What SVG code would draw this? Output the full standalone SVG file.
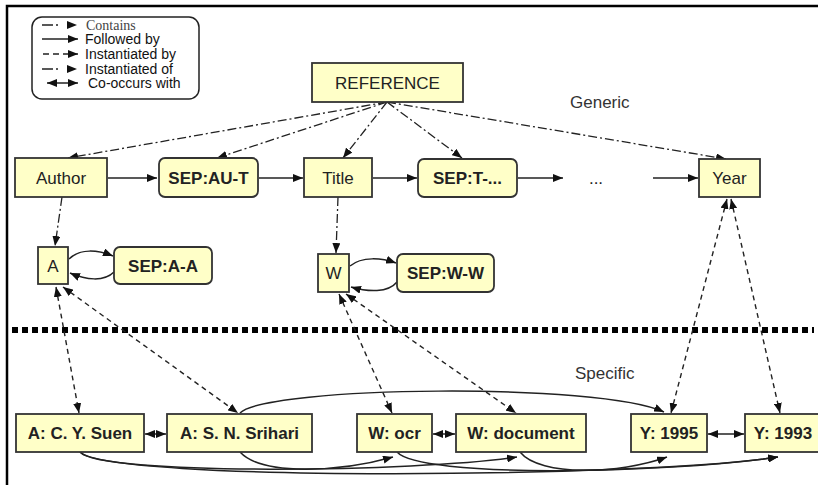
<svg xmlns="http://www.w3.org/2000/svg" width="818" height="485" viewBox="0 0 818 485">
<style>
.nb{fill:#FFFFC8;stroke:#333;stroke-width:1.8}
.t{font-family:"Liberation Sans",Arial,sans-serif;font-size:17px;fill:#222;text-anchor:middle}
.b{font-weight:bold}
.lg{font-family:"Liberation Sans",Arial,sans-serif;font-size:14px;fill:#111}
.lbl{font-family:"Liberation Sans",Arial,sans-serif;font-size:17px;fill:#333}
.cd{fill:none;stroke:#222;stroke-width:1.3;stroke-dasharray:9 3 2 3}
.dd{fill:none;stroke:#222;stroke-width:1.4;stroke-dasharray:5 4}
.sd{fill:none;stroke:#222;stroke-width:1.5}
</style>
<defs>
<marker id="ah" viewBox="0 0 10 8" refX="10" refY="4" markerWidth="10" markerHeight="8" markerUnits="userSpaceOnUse" orient="auto-start-reverse">
<path d="M0,0 L10,4 L0,8 z" fill="#111"/>
</marker>
</defs>
<rect width="818" height="485" fill="#fff"/>
<path d="M7,485 V6 H818" fill="none" stroke="#000" stroke-width="2.5"/>
<g id="legend">
<rect x="32" y="17" width="167" height="82" rx="10" fill="#fff" stroke="#222" stroke-width="1.5"/>
<path d="M42,25 H77" class="sd" stroke-dasharray="11 3 2 30" marker-end="url(#ah)"/>
<text x="86" y="30" font-family="Liberation Serif,serif" font-size="14" fill="#444">Contains</text>
<path d="M42,39 H78" class="sd" marker-end="url(#ah)"/>
<text x="85" y="44" class="lg">Followed by</text>
<path d="M43,54 H78" class="sd" stroke-dasharray="6 4" marker-end="url(#ah)"/>
<text x="85" y="59" class="lg">Instantiated by</text>
<path d="M42,69 H77" class="sd" stroke-dasharray="11 3 2 30" marker-end="url(#ah)"/>
<text x="85" y="74" class="lg">Instantiated of</text>
<path d="M47,83 H78" class="sd" marker-start="url(#ah)" marker-end="url(#ah)"/>
<text x="88" y="88" class="lg">Co-occurs with</text>
</g>
<text x="570" y="108" class="lbl">Generic</text>
<text x="575" y="379" class="lbl">Specific</text>
<line x1="12" y1="330" x2="814" y2="330" stroke="#000" stroke-width="6" stroke-dasharray="6 4"/>
<g id="connectors">
<path class="cd" d="M387,102 L68,158" marker-end="url(#ah)"/>
<path class="cd" d="M387,102 L217,158" marker-end="url(#ah)"/>
<path class="cd" d="M387,102 L343,158" marker-end="url(#ah)"/>
<path class="cd" d="M387,102 L462,158" marker-end="url(#ah)"/>
<path class="cd" d="M387,102 L726,159" marker-end="url(#ah)"/>
<path class="cd" d="M62,197 L55,246" marker-end="url(#ah)"/>
<path class="cd" d="M338,197 L336,253" marker-end="url(#ah)"/>
<path class="sd" d="M108,178 H157" marker-end="url(#ah)"/>
<path class="sd" d="M259,178 H303" marker-end="url(#ah)"/>
<path class="sd" d="M373,178 H417" marker-end="url(#ah)"/>
<path class="sd" d="M518,178 H563" marker-end="url(#ah)"/>
<path class="sd" d="M653,178 H698" marker-end="url(#ah)"/>
<path class="sd" d="M69,259 C80,248 98,250 113,256" marker-end="url(#ah)"/>
<path class="sd" d="M114,272 C104,282 86,280 70,273" marker-end="url(#ah)"/>
<path class="sd" d="M350,266 C362,256 382,258 396,263" marker-end="url(#ah)"/>
<path class="sd" d="M397,282 C388,293 368,292 351,287" marker-end="url(#ah)"/>
<path class="dd" d="M56,287 L79,413" marker-start="url(#ah)" marker-end="url(#ah)"/>
<path class="dd" d="M63,287 L238,413" marker-start="url(#ah)" marker-end="url(#ah)"/>
<path class="dd" d="M339,294 L392,413" marker-start="url(#ah)" marker-end="url(#ah)"/>
<path class="dd" d="M346,294 L516,413" marker-start="url(#ah)" marker-end="url(#ah)"/>
<path class="dd" d="M727,199 L671,413" marker-start="url(#ah)" marker-end="url(#ah)"/>
<path class="dd" d="M731,199 L780,413" marker-start="url(#ah)" marker-end="url(#ah)"/>
<path class="sd" d="M145,434 H166" marker-start="url(#ah)" marker-end="url(#ah)"/>
<path class="sd" d="M433,434 H455" marker-start="url(#ah)" marker-end="url(#ah)"/>
<path class="sd" d="M708,434 H744" marker-start="url(#ah)" marker-end="url(#ah)"/>
<path class="sd" d="M240,413 C268,386 600,382 664,412" marker-end="url(#ah)"/>
<path class="sd" d="M80,452 C100,476 420,472 517,457" marker-end="url(#ah)"/>
<path class="sd" d="M80,452 C110,482 640,478 778,457" marker-end="url(#ah)"/>
<path class="sd" d="M240,452 C262,476 340,472 393,457" marker-end="url(#ah)"/>
<path class="sd" d="M397,452 C420,478 660,474 778,457" marker-end="url(#ah)"/>
<path class="sd" d="M520,452 C540,477 620,474 667,457" marker-end="url(#ah)"/>
</g>
<g id="reference"><rect class="nb" x="312" y="63" width="151" height="39"/><text class="t" x="387.5" y="89">REFERENCE</text></g>
<g id="author"><rect class="nb" x="15" y="158" width="92" height="39"/><text class="t" x="61" y="184">Author</text></g>
<g id="sep-au-t"><rect class="nb" x="159" y="158" width="99" height="39" rx="6"/><text class="t b" x="208.5" y="184">SEP:AU-T</text></g>
<g id="title"><rect class="nb" x="304" y="158" width="68" height="39"/><text class="t" x="338" y="184">Title</text></g>
<g id="sep-t"><rect class="nb" x="418" y="159" width="99" height="38" rx="6"/><text class="t b" x="467.5" y="184">SEP:T-...</text></g>
<g id="ellipsis"><text class="t" x="596" y="184">...</text></g>
<g id="year"><rect class="nb" x="699" y="159" width="61" height="38"/><text class="t" x="729.5" y="184">Year</text></g>
<g id="a"><rect class="nb" x="38" y="247" width="30" height="37"/><text class="t" x="53" y="272">A</text></g>
<g id="sep-a-a"><rect class="nb" x="114" y="247" width="98" height="37" rx="6"/><text class="t b" x="163" y="272">SEP:A-A</text></g>
<g id="w"><rect class="nb" x="318" y="254" width="31" height="38"/><text class="t" x="333.5" y="279">W</text></g>
<g id="sep-w-w"><rect class="nb" x="397" y="254" width="97" height="38" rx="6"/><text class="t b" x="445.5" y="279">SEP:W-W</text></g>
<g id="suen"><rect class="nb" x="16" y="414" width="128" height="38"/><text class="t b" x="80" y="439">A: C. Y. Suen</text></g>
<g id="srihari"><rect class="nb" x="167" y="414" width="145" height="38"/><text class="t b" x="239.5" y="439">A: S. N. Srihari</text></g>
<g id="ocr"><rect class="nb" x="357" y="414" width="75" height="38"/><text class="t b" x="394.5" y="439">W: ocr</text></g>
<g id="document"><rect class="nb" x="456" y="414" width="130" height="38"/><text class="t b" x="521" y="439">W: document</text></g>
<g id="y1995"><rect class="nb" x="631" y="414" width="76" height="38"/><text class="t b" x="669" y="439">Y: 1995</text></g>
<g id="y1993"><rect class="nb" x="745" y="414" width="80" height="38"/><text class="t b" x="783" y="439">Y: 1993</text></g>
</svg>
